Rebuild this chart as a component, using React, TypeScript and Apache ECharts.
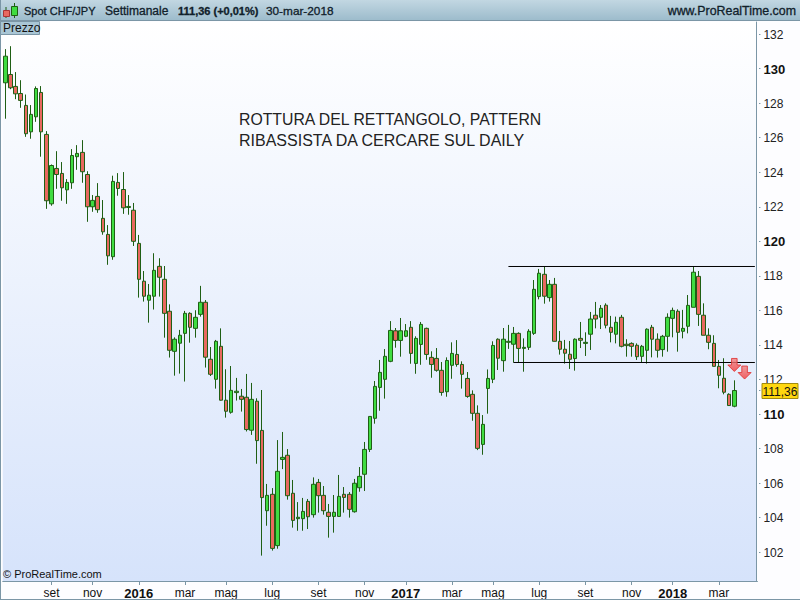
import React, { useEffect, useRef } from "react";
import * as echarts from "echarts";

const OPEN = [129.18,129.66,128.97,128.56,127.87,126.34,127.21,128.62,126.19,122.17,124.22,123.93,122.98,123.39,124.90,125.15,123.87,122.00,122.60,121.33,120.40,119.11,123.41,123.00,121.96,121.80,119.88,117.69,116.59,116.82,118.55,117.80,115.95,113.63,114.10,114.67,115.83,114.96,115.77,116.47,113.17,112.01,113.92,110.80,110.10,111.24,111.03,110.97,109.06,110.74,109.05,104.40,105.35,102.38,107.37,107.61,105.41,103.94,103.94,104.94,104.17,106.04,105.29,104.31,104.07,104.07,105.35,105.35,104.34,105.73,106.51,107.95,109.75,111.54,112.01,113.05,114.82,114.26,114.50,115.02,112.93,114.03,114.96,113.28,113.22,112.53,111.29,112.82,113.45,112.87,112.06,111.14,110.04,108.24,111.48,112.01,114.33,113.09,114.15,114.04,114.67,113.80,113.86,114.67,116.80,118.09,116.74,117.51,114.21,113.75,113.46,113.21,114.38,114.09,114.62,115.72,115.60,116.30,115.02,114.62,115.60,114.04,114.09,113.98,113.34,113.69,115.02,114.33,113.73,114.50,115.54,115.95,114.79,115.08,116.18,117.97,115.72,114.56,114.09,112.76,112.07,111.14,110.45];
const CLOSE = [130.72,128.89,128.54,128.16,126.23,127.35,128.85,126.34,122.35,124.39,123.87,123.10,123.41,124.97,125.09,124.03,122.00,122.37,121.83,120.55,119.16,123.47,123.06,121.94,122.02,120.00,117.80,116.82,116.88,118.32,117.92,115.83,113.69,114.33,114.56,115.83,115.02,115.60,116.47,113.29,112.30,114.21,110.80,110.16,111.37,111.32,110.85,109.10,110.85,108.46,105.16,105.29,102.22,106.68,107.49,105.27,103.84,104.02,104.36,104.05,105.93,105.27,104.40,104.07,104.31,105.23,105.17,104.48,105.99,106.39,107.95,109.86,111.60,112.41,113.34,114.84,114.26,114.82,114.82,113.51,114.38,115.19,113.45,112.87,112.53,111.25,113.10,113.51,112.87,112.30,111.02,110.04,108.01,109.40,112.06,113.97,113.23,114.33,114.21,114.67,113.80,113.86,114.79,117.22,118.15,116.82,117.51,114.21,113.75,113.52,113.17,114.33,114.27,114.15,115.50,115.50,116.12,115.14,114.73,115.31,113.92,113.96,113.92,113.32,113.92,114.91,114.33,113.69,114.50,115.60,116.00,114.73,114.96,116.29,118.21,115.77,114.56,114.15,112.76,112.24,111.26,110.49,111.36];
const LOW = [127.10,128.81,128.23,127.73,126.05,125.94,126.92,124.90,121.88,122.06,123.04,122.35,122.17,123.04,124.14,123.39,121.13,121.71,121.65,120.38,118.64,118.93,122.64,121.59,121.54,119.73,116.74,116.51,115.29,116.05,116.80,114.42,113.27,112.22,112.34,111.88,114.13,114.42,115.64,112.69,112.20,111.47,110.78,109.79,110.02,110.78,110.14,108.99,108.79,107.12,101.80,103.53,102.09,102.20,106.81,105.04,103.42,103.24,103.24,103.34,104.00,104.29,104.17,102.84,103.13,104.07,104.29,104.00,104.29,105.50,105.54,107.80,109.44,110.19,110.89,113.00,113.84,113.32,114.45,112.91,112.33,112.85,113.14,112.10,112.45,111.06,111.00,112.04,112.74,111.47,110.94,109.61,107.91,107.64,110.02,111.79,112.55,112.45,113.77,112.98,113.00,112.45,113.71,114.58,116.64,116.39,116.51,114.20,113.44,112.92,112.61,112.51,113.82,113.36,113.71,114.96,114.92,114.96,114.15,114.09,113.86,113.32,113.32,113.13,113.01,112.92,113.28,113.27,113.32,113.61,114.44,113.61,114.38,114.67,116.18,115.10,114.56,113.75,112.76,111.49,111.14,110.47,110.39];
const HIGH = [131.13,131.30,129.80,129.33,128.50,127.89,128.97,128.99,126.38,124.45,125.22,124.59,123.60,125.34,125.57,125.86,124.06,122.68,123.37,122.39,120.94,123.80,123.95,124.01,122.68,122.22,120.37,118.28,117.53,119.31,119.02,118.57,116.35,114.44,114.87,115.97,115.89,116.01,117.42,116.60,113.88,114.29,114.96,112.59,112.78,112.09,111.45,112.32,111.80,110.91,111.39,105.95,105.71,108.49,108.96,107.97,106.18,104.90,105.14,105.08,106.33,106.24,105.83,104.79,105.31,106.47,105.77,105.48,106.24,106.93,108.38,109.88,111.91,113.13,113.76,115.38,114.98,115.56,115.21,115.38,114.50,115.33,115.00,113.63,113.82,113.01,113.28,114.15,114.28,113.05,112.43,111.37,110.50,109.94,112.58,114.21,114.38,114.98,115.16,115.04,114.73,114.38,114.91,117.76,118.40,118.57,117.76,117.88,114.81,114.29,114.23,114.38,115.33,114.73,115.91,116.49,116.31,116.41,115.68,115.64,115.74,114.33,114.15,114.09,114.00,114.96,115.16,114.67,114.58,115.83,116.16,116.06,116.03,116.89,118.55,118.28,116.41,114.96,114.56,113.13,113.23,111.20,111.95];

const BLANK_WEEKS = 4;
const START_DATE = Date.UTC(2015, 6, 10);
const WEEK_MS = 7 * 24 * 3600 * 1000;
const DATES = Array.from({ length: OPEN.length + BLANK_WEEKS }, (_, i) =>
  new Date(START_DATE + i * WEEK_MS).toISOString().slice(0, 10)
);

const X_TICK_INDEX = [9, 17, 26, 35, 43, 52, 61, 70, 78, 87, 95, 104, 113, 122, 130, 139];
const X_TICK_LABELS = ["set", "nov", "2016", "mar", "mag", "lug", "set", "nov", "2017", "mar", "mag", "lug", "set", "nov", "2018", "mar"];
const Y_TICKS = [102, 104, 106, 108, 110, 112, 114, 116, 118, 120, 122, 124, 126, 128, 130, 132];
const Y_BOLD = [110, 120, 130];
const LAST_PRICE = 111.36;
const RESISTANCE = 118.542;
const SUPPORT = 112.983;
const RESISTANCE_START = 98;
const SUPPORT_START = 99;
const ARROWS: [number, number][] = [[142, 112.84], [144, 112.4]];
const Y_MIN = 100.33;
const Y_MAX = 132.7;

const NOTE_1 = "ROTTURA DEL RETTANGOLO, PATTERN";
const NOTE_2 = "RIBASSISTA DA CERCARE SUL DAILY";

const BORDER = "#7b96a6";
const WICK = "#1f5f14";
const FONT = "'Liberation Sans', Arial, sans-serif";

const headerText = (text: string, x: number, size = 12, weight = "normal", align = "left") => ({
  type: "text",
  x,
  y: 11,
  z: 20,
  style: { text, fontFamily: FONT, fontSize: size, fontWeight: weight, fill: "#10202a", align, verticalAlign: "middle", stroke: "#10202a", lineWidth: 0.3 },
});

export default function App() {
  const ref = useRef<HTMLDivElement>(null);
  useEffect(() => {
    document.body.style.margin = "0";
    const chart = echarts.init(ref.current!, null, { renderer: "svg" });
    const candles = OPEN.map((o, i) => [o, CLOSE[i], LOW[i], HIGH[i]]);
    chart.setOption({
      animation: false,
      backgroundColor: "#fdfdff",
      grid: {
        left: 2.73,
        top: 22,
        width: 754.7,
        height: 559,
        show: true,
        borderWidth: 0,
        backgroundColor: new echarts.graphic.LinearGradient(0, 0, 0, 1, [
          { offset: 0, color: "#ffffff" },
          { offset: 1, color: "#d6e3fb" },
        ]),
      },
      xAxis: {
        type: "category",
        data: DATES,
        boundaryGap: true,
        axisLine: { show: true, lineStyle: { color: BORDER, width: 1 } },
        axisTick: {
          show: true,
          alignWithLabel: true,
          length: 4,
          lineStyle: { color: BORDER },
          interval: (i: number) => X_TICK_INDEX.includes(i),
        },
        axisLabel: {
          interval: (i: number) => X_TICK_INDEX.includes(i),
          margin: 6,
          fontFamily: FONT,
          fontSize: 12,
          color: "#111",
          formatter: (_: string, i: number) => {
            const l = X_TICK_LABELS[X_TICK_INDEX.indexOf(i)] ?? "";
            return /^\d+$/.test(l) ? `{y|${l}}` : l;
          },
          rich: { y: { fontFamily: FONT, fontSize: 13, fontWeight: "bold", color: "#111" } },
        },
        splitLine: { show: false },
      },
      yAxis: {
        type: "value",
        position: "right",
        offset: -1,
        min: Y_MIN,
        max: Y_MAX,
        scale: true,
        axisLine: { show: true, onZero: false, lineStyle: { color: BORDER, width: 1 } },
        axisTick: { show: true, length: 4, lineStyle: { color: BORDER }, customValues: [...Y_TICKS, LAST_PRICE] },
        axisLabel: {
          customValues: Y_TICKS,
          margin: 7,
          padding: [1, 0, 0, 0],
          fontFamily: FONT,
          fontSize: 12,
          color: "#222",
          formatter: (v: number) => (Y_BOLD.includes(v) ? `{b|${v}}` : `${v}`),
          rich: { b: { fontFamily: FONT, fontSize: 13, fontWeight: "bold", color: "#111" } },
        },
        splitLine: { show: false },
      },
      series: [
        {
          type: "candlestick",
          data: candles,
          barWidth: 4,
          itemStyle: {
            color: "#3fdc41",
            color0: "#e8695f",
            borderColor: WICK,
            borderColor0: WICK,
            borderColorDoji: WICK,
            borderWidth: 1,
          },
        },
        {
          type: "line",
          data: [[DATES[RESISTANCE_START], RESISTANCE], [DATES[DATES.length - 1], RESISTANCE]],
          showSymbol: false,
          lineStyle: { color: "#000", width: 1 },
          z: 5,
        },
        {
          type: "line",
          data: [[DATES[SUPPORT_START], SUPPORT], [DATES[DATES.length - 1], SUPPORT]],
          showSymbol: false,
          lineStyle: { color: "#000", width: 1 },
          z: 5,
        },
        {
          type: "scatter",
          data: ARROWS.map(([i, p]) => [DATES[i], p]),
          symbol: "path://M4 0H10V7H14L7 14L0 7H4Z",
          symbolSize: [13, 13],
          itemStyle: {
            color: new echarts.graphic.LinearGradient(0, 0, 0, 1, [
              { offset: 0, color: "#f08484" },
              { offset: 1, color: "#f23c3c" },
            ]),
            borderColor: "#e02c2c",
            borderWidth: 1,
          },
          z: 6,
        },
      ],
      graphic: [
        { type: "rect", z: 1, shape: { x: 757, y: 22, width: 2, height: 559 }, style: { fill: "#fdfdff" } },
        {
          type: "rect", z: 15, shape: { x: 0, y: 0, width: 800, height: 20 },
          style: { fill: new echarts.graphic.LinearGradient(0, 0, 0, 1, [
            { offset: 0, color: "#c2d7e2" },
            { offset: 1, color: "#9dbccc" },
          ]) },
        },
        { type: "rect", z: 15, shape: { x: 0, y: 20, width: 800, height: 1 }, style: { fill: BORDER } },
        { type: "rect", z: 15, shape: { x: 0, y: 0, width: 1, height: 600 }, style: { fill: BORDER } },
        { type: "rect", z: 15, shape: { x: 0, y: 599, width: 800, height: 1 }, style: { fill: BORDER } },
        // candle logo
        { type: "rect", z: 20, shape: { x: 5.5, y: 7, width: 1, height: 11 }, style: { fill: WICK } },
        { type: "rect", z: 21, shape: { x: 3.5, y: 10.5, width: 6, height: 6 }, style: { fill: "#e8695f", stroke: "#a33", lineWidth: 1 } },
        { type: "rect", z: 20, shape: { x: 14, y: 3, width: 1, height: 15 }, style: { fill: WICK } },
        { type: "rect", z: 21, shape: { x: 11.5, y: 6.5, width: 6, height: 9 }, style: { fill: "#3fdc41", stroke: WICK, lineWidth: 1 } },
        headerText("Spot CHF/JPY", 24, 11),
        headerText("Settimanale", 105),
        headerText("111,36 (+0,01%)", 178, 11, "bold"),
        headerText("30-mar-2018", 266, 11.8),
        headerText("www.ProRealTime.com", 796, 12.4, "normal", "right"),
        // price tab
        {
          type: "rect", z: 16, shape: { x: 0.5, y: 21.5, width: 39, height: 13 },
          style: { fill: "#a9c6d5", stroke: BORDER, lineWidth: 1 },
        },
        { type: "text", z: 17, x: 3, y: 28, style: { text: "Prezzo", fontFamily: FONT, fontSize: 12, fill: "#111", verticalAlign: "middle" } },
        // note
        { type: "text", z: 17, x: 239, y: 119, style: { text: NOTE_1, fontFamily: FONT, fontSize: 15.8, fill: "#222", verticalAlign: "middle" } },
        { type: "text", z: 17, x: 239, y: 140, style: { text: NOTE_2, fontFamily: FONT, fontSize: 16, fill: "#222", verticalAlign: "middle" } },
        // copyright
        { type: "text", z: 17, x: 3, y: 574, style: { text: "© ProRealTime.com", fontFamily: FONT, fontSize: 11, fill: "#111", verticalAlign: "middle" } },
        // last price box
        {
          type: "rect", z: 18, shape: { x: 762, y: 383.5, width: 36, height: 15 },
          style: { fill: "#ffd70f", stroke: "#a08a10", lineWidth: 1 },
        },
        { type: "text", z: 19, x: 780, y: 391.5, style: { text: "111,36", fontFamily: FONT, fontSize: 12, fill: "#111", align: "center", verticalAlign: "middle" } },
      ],
    });
    return () => chart.dispose();
  }, []);
  return <div ref={ref} style={{ position: "absolute", left: 0, top: 0, width: 800, height: 600 }} />;
}
